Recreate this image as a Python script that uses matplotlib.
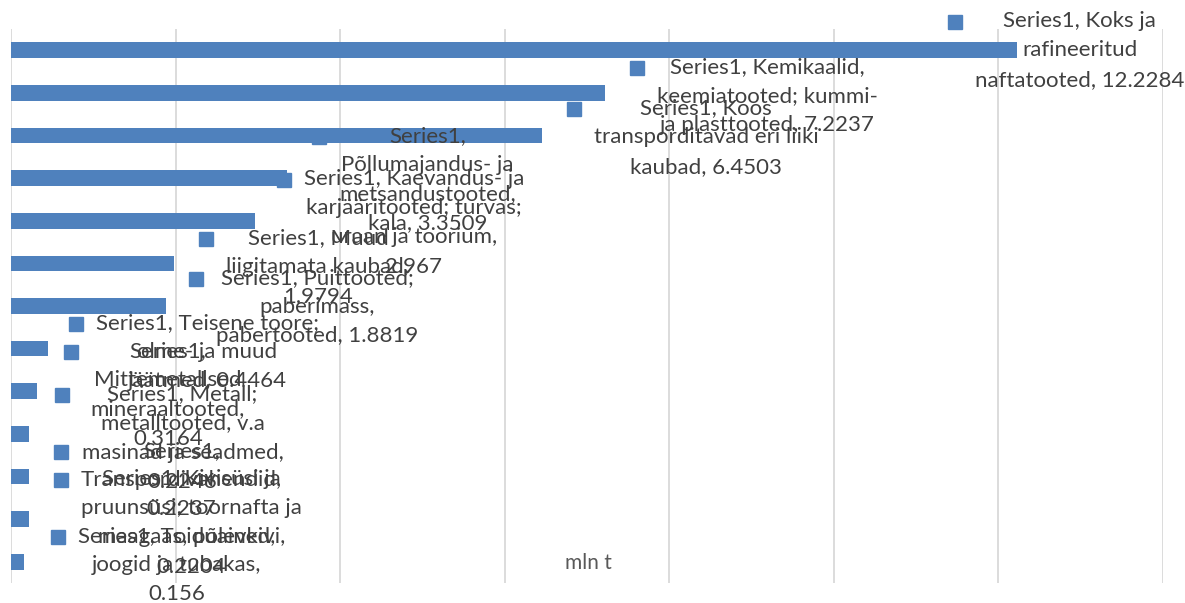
import numpy as np
import matplotlib
matplotlib.use('Agg')
import matplotlib.pyplot as plt

# Categories (top to bottom) and values, mln t
categories = [
    'Koks ja rafineeritud naftatooted',
    'Kemikaalid, keemiatooted; kummi- ja plasttooted',
    'Koos transporditavad eri liiki kaubad',
    'Põllumajandus- ja metsandustooted, kala',
    'Kaevandus- ja karjääritooted; turvas; uraan ja toorium',
    'Muud liigitamata kaubad',
    'Puittooted; paberimass, pabertooted',
    'Teisene toore; olme- ja muud jäätmed',
    'Mittemetallsed mineraaltooted',
    'Metall; metalltooted, v.a masinad ja seadmed',
    'Transpordivahendid',
    'Kivisüsi ja pruunsüsi; toornafta ja maagaas, põlevkivi',
    'Toiduained, joogid ja tubakas',
]
values = [12.2284, 7.2237, 6.4503, 3.3509, 2.967, 1.9794, 1.8819,
          0.4464, 0.3164, 0.2246, 0.2237, 0.2204, 0.156]
series_name = 'Series1'

# data labels as Excel wrapped them
label_lines = [
    ['Series1, Koks ja', 'rafineeritud', 'naftatooted, 12.2284'],
    ['Series1, Kemikaalid,', 'keemiatooted; kummi-', 'ja plasttooted, 7.2237'],
    ['Series1, Koos', 'transporditavad eri liiki', 'kaubad, 6.4503'],
    ['Series1,', 'Põllumajandus- ja', 'metsandustooted,', 'kala, 3.3509'],
    ['Series1, Kaevandus- ja', 'karjääritooted; turvas;', 'uraan ja toorium,', '2.967'],
    ['Series1, Muud', 'liigitamata kaubad,', '1.9794'],
    ['Series1, Puittooted;', 'paberimass,', 'pabertooted, 1.8819'],
    ['Series1, Teisene toore;', 'olme- ja muud', 'jäätmed, 0.4464'],
    ['Series1,', 'Mittemetallsed', 'mineraaltooted,', '0.3164'],
    ['Series1, Metall;', 'metalltooted, v.a', 'masinad ja seadmed,', '0.2246'],
    ['Series1,', 'Transpordivahendid,', '0.2237'],
    ['Series1, Kivisüsi ja', 'pruunsüsi; toornafta ja', 'maagaas, põlevkivi,', '0.2204'],
    ['Series1, Toiduained,', 'joogid ja tubakas,', '0.156'],
]
# label offsets from bar end (x in mln t, y in category rows)
label_offsets = [(0.76, -0.92), (1.97, -0.85), (2.00, -0.88), (1.71, -1.23),
                 (1.93, -1.22), (1.75, -0.83), (1.84, -0.90), (1.94, -0.84),
                 (1.59, -1.18), (1.86, -1.17), (1.85, -0.84), (1.97, -1.18),
                 (1.86, -0.84)]

bar_color = '#4F81BD'
text_color = '#404040'

fig = plt.figure(figsize=(11.85, 6.03), dpi=100)
ax = fig.add_axes([11 / 1185, 20 / 603, 1152 / 1185, 554 / 603])

y = np.arange(len(values))
ax.barh(y, values, height=0.37, color=bar_color, zorder=2)
ax.set_xlim(0, 14)
ax.set_ylim(len(values) - 0.5, -0.5)
ax.set_xticks(np.arange(0, 15, 2))
ax.set_yticks([])
ax.tick_params(axis='x', length=0, labelbottom=False)
ax.grid(axis='x', color='#D9D9D9', linewidth=1.3, zorder=0)
for s in ax.spines.values():
    s.set_visible(False)

texts = []
for i, (v, lines) in enumerate(zip(values, label_lines)):
    dx, dy = label_offsets[i]
    t = ax.text(v + dx, i + dy, '\n'.join(lines), ha='center', va='top',
                multialignment='center', fontsize=16, family='Lato',
                color=text_color, linespacing=1.58, zorder=4, clip_on=False)
    texts.append(t)

# legend-key squares to the left of each label
fig.canvas.draw()
renderer = fig.canvas.get_renderer()
inv = ax.transData.inverted()
for t in texts:
    bb = t.get_window_extent(renderer)
    mx, my = inv.transform((bb.x0 - 20, bb.y1 - 11))
    ax.plot(mx, my, marker='s', markersize=10, color=bar_color,
            linestyle='none', zorder=3, clip_on=False)

fig.text(588 / 1185, 1 - 563 / 603, 'mln t', ha='center', va='center',
         fontsize=15, family='Lato', color='#595959')

fig.savefig('out.png', dpi=100)
